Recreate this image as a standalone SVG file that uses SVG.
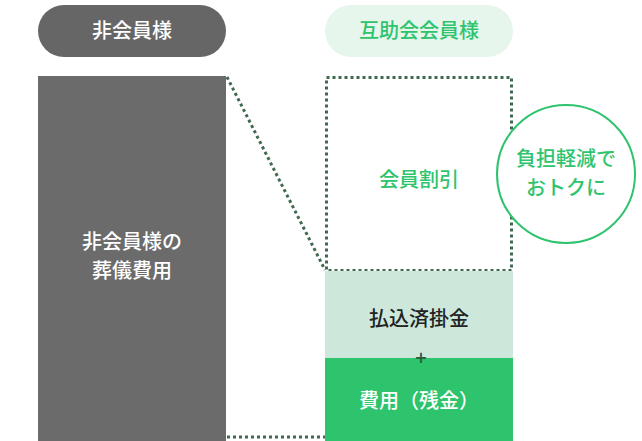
<svg xmlns="http://www.w3.org/2000/svg" width="642" height="441" viewBox="0 0 642 441">
<style>
text{font-family:"Noto Sans CJK JP",sans-serif;font-size:20px;font-weight:500;text-anchor:middle}
.dot{fill:none;stroke:#3f6a50;stroke-width:3;stroke-dasharray:3 3}
</style>
<rect width="642" height="441" fill="#fff"/>
<g id="pill-left"><rect x="38" y="5" width="188" height="52" rx="26" fill="#666"/><text x="132" y="38" fill="#fff">非会員様</text></g>
<g id="pill-right"><rect x="325" y="5" width="188" height="52" rx="26" fill="#e6f6ec"/><text x="419" y="38" fill="#2ec46e">互助会会員様</text></g>
<g id="connectors">
<line class="dot" x1="227" y1="77" x2="325" y2="270"/>
<line class="dot" x1="227" y1="437" x2="325" y2="437"/>
</g>
<g id="nonmember"><rect x="38" y="76" width="188" height="365" fill="#6b6b6b"/><text x="132" y="249" fill="#fff">非会員様の</text><text x="132" y="278" fill="#fff">葬儀費用</text></g>
<g id="discount"><rect class="dot" x="326.5" y="77.5" width="185" height="193"/><text x="419" y="187" fill="#2ec46e">会員割引</text></g>
<g id="paid"><rect x="325" y="271" width="188" height="88" fill="#cde8da"/><text x="419" y="326" fill="#222">払込済掛金</text></g>
<g id="rest"><rect x="325" y="358" width="188" height="83" fill="#2ec46e"/><text x="419" y="408" fill="#fff">費用（残金）</text></g>
<text x="421" y="365" fill="#2a5a3c" font-size="18">+</text>
<g id="badge"><circle cx="566" cy="174" r="69" fill="#fff" stroke="#2ec46e" stroke-width="2"/><text x="566" y="166" fill="#2ec46e">負担軽減で</text><text x="566" y="195" fill="#2ec46e">おトクに</text></g>
</svg>
